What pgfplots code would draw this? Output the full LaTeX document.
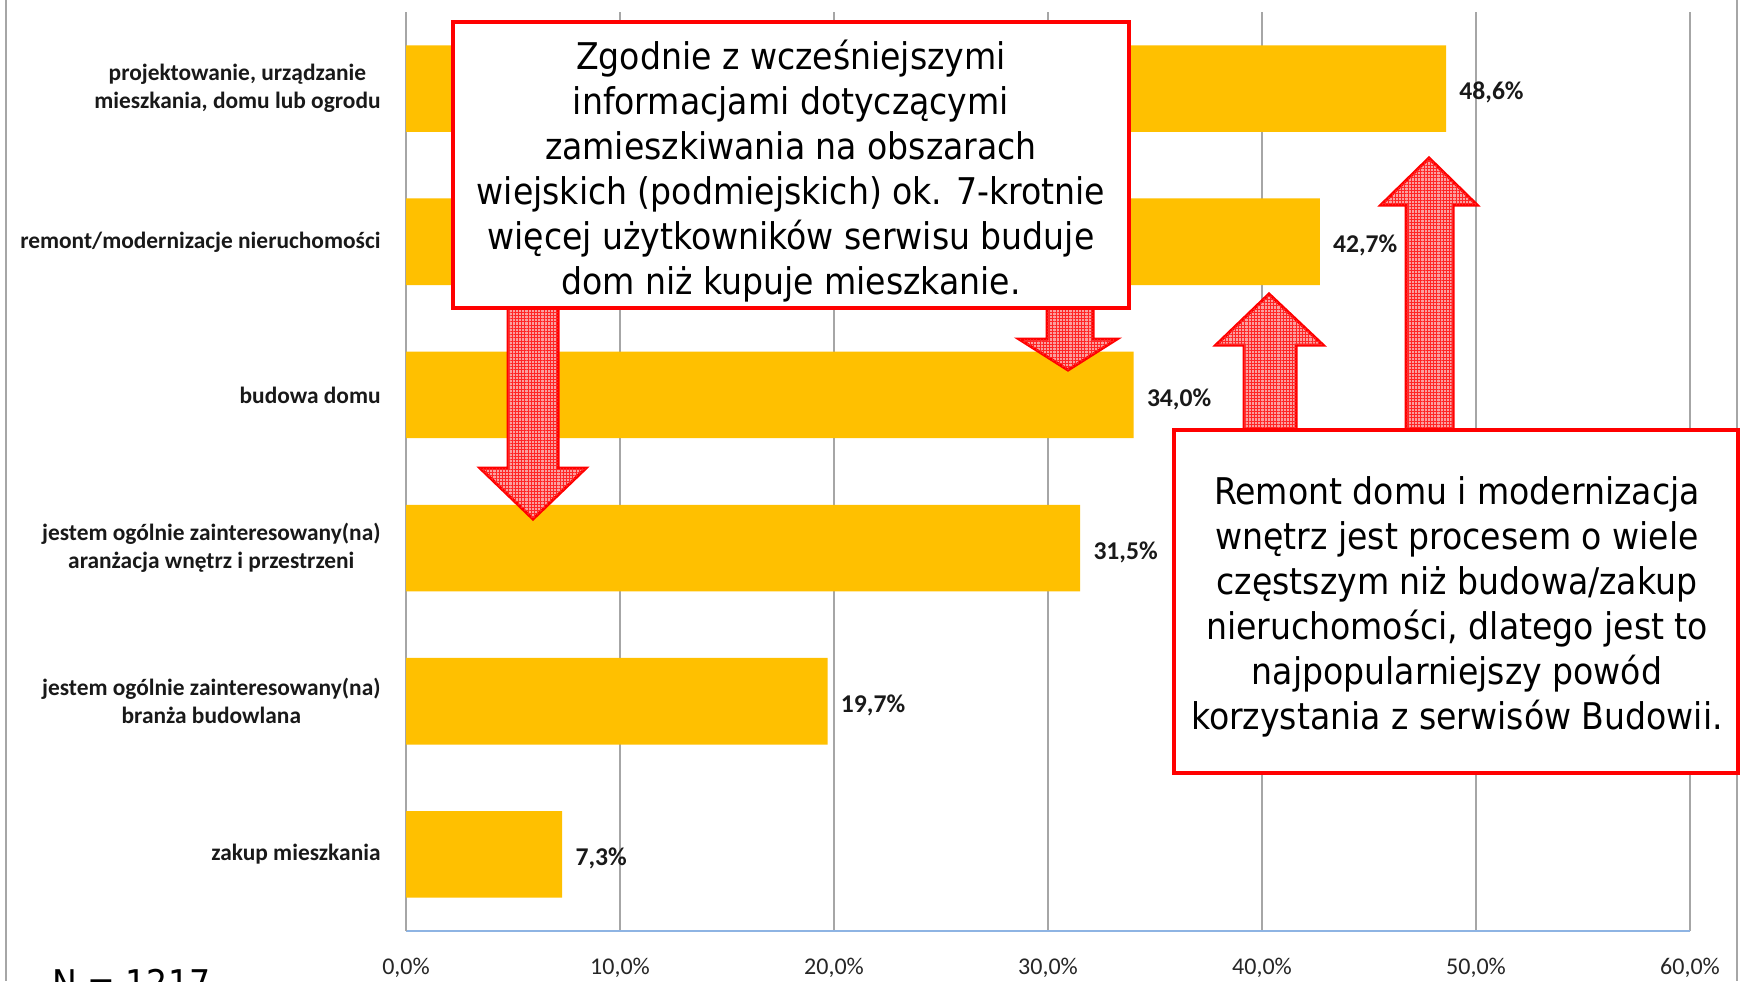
\documentclass[border=0pt]{standalone}
\usepackage{pgfplots}
\pgfplotsset{compat=1.18}
\usetikzlibrary{patterns.meta}
\usepackage{fontspec}
\setmainfont{Carlito}
\newfontfamily\boxfont{DejaVu Sans Condensed}
\definecolor{bargold}{HTML}{FFC000}
\definecolor{gridgray}{HTML}{A6A6A6}
\definecolor{axisblue}{HTML}{8EB4E3}
\definecolor{arrowfill}{RGB}{250,160,160}
\tikzset{bigarrow/.style={draw=red, line width=1.5pt, fill=arrowfill, line join=miter,
  postaction={pattern={Lines[angle=0, distance=1.6pt, line width=0.45pt]}, pattern color=red!85},
  postaction={pattern={Lines[angle=90, distance=1.6pt, line width=0.45pt]}, pattern color=red!85}}}
\begin{document}
\begin{tikzpicture}
\path[use as bounding box, fill=white] (0,0) rectangle (870pt,-490.5pt);
\begin{scope}[x=0.5pt,y=-0.5pt]
\draw[gridgray, line width=0.75pt] (6,0) -- (6,981);
\draw[gridgray, line width=0.75pt] (1737,0) -- (1737,981);
\end{scope}
\begin{axis}[
  at={(203pt,-465.5pt)}, anchor=south west,
  scale only axis, width=642pt, height=459.5pt,
  xbar, bar width=43.3pt,
  xmin=0, xmax=60, ymin=-0.5, ymax=5.5, y dir=reverse,
  xtick={0,10,...,60},
  xticklabels={{0,0\%},{10,0\%},{20,0\%},{30,0\%},{40,0\%},{50,0\%},{60,0\%}},
  xticklabel style={font=\fontsize{12}{14}\selectfont, anchor=base, inner sep=0pt, yshift=-21.5pt, text=black!85},
  ytick={0,...,5},
  yticklabels={{projektowanie, urządzanie\\mieszkania, domu lub ogrodu},{remont/modernizacje nieruchomości},{budowa domu},{jestem ogólnie  zainteresowany(na)\\aranżacja  wnętrz i przestrzeni},{jestem ogólnie  zainteresowany(na)\\branża budowlana},{zakup mieszkania}},
  yticklabel style={font=\bfseries\fontsize{11.7}{14}\selectfont, align=center, anchor=east, inner sep=0pt, xshift=-12.5pt, text=black!90},
  major tick length=0pt,
  xmajorgrids, grid style={gridgray, line width=0.75pt},
  axis x line*=bottom, axis y line*=left,
  x axis line style={axisblue, line width=0.9pt, -},
  y axis line style={gridgray, line width=0.75pt, -},
  point meta=x,
  nodes near coords={\pgfmathprintnumber[fixed,fixed zerofill,precision=1,use comma,assume math mode=true]{\pgfplotspointmeta}\%},
  nodes near coords style={font=\bfseries\fontsize{12.8}{14}\selectfont, anchor=west, inner sep=0pt, xshift=6.5pt, yshift=-2pt, text=black!90},
]
\addplot[fill=bargold, draw=none] coordinates {(48.6,0) (42.7,1) (34.0,2) (31.5,3) (19.7,4) (7.3,5)};
\end{axis}
\begin{scope}[x=0.5pt,y=-0.5pt]
% arrows
\path[bigarrow]
  (508,300) -- (508,468) -- (480,468) -- (533,519) -- (586,468) -- (558,468) -- (558,300) -- cycle;
\path[bigarrow]
  (1047,300) -- (1047,339) -- (1019,339) -- (1068,370) -- (1117,339) -- (1093,339) -- (1093,300) -- cycle;
\path[bigarrow]
  (1244,440) -- (1244,345) -- (1216,345) -- (1269,294) -- (1323,345) -- (1296,345) -- (1296,440) -- cycle;
\path[bigarrow]
  (1406,440) -- (1406,205) -- (1381,205) -- (1429,158) -- (1477,205) -- (1453,205) -- (1453,440) -- cycle;
% boxes
\draw[red, line width=2.3pt, fill=white] (453,22) rectangle (1129,308);
\node[font=\boxfont\fontsize{18.4}{22.5}\selectfont, align=center, inner sep=0pt] at (791,171)
  {Zgodnie z wcześniejszymi\\informacjami dotyczącymi\\zamieszkiwania na obszarach\\wiejskich (podmiejskich) ok. 7-krotnie\\więcej użytkowników serwisu buduje\\dom niż kupuje mieszkanie.};
\draw[red, line width=2.3pt, fill=white] (1174,430) rectangle (1738,773);
\node[font=\boxfont\fontsize{18.4}{22.5}\selectfont, align=center, inner sep=0pt] at (1457,607)
  {Remont domu i modernizacja\\wnętrz jest procesem o wiele\\częstszym niż budowa/zakup\\nieruchomości, dlatego jest to\\najpopularniejszy powód\\korzystania z serwisów Budowii.};
\node[font=\boxfont\fontsize{18.4}{22}\selectfont, anchor=base west, inner sep=0pt] at (52,996) {N = 1217};
\end{scope}
\end{tikzpicture}
\end{document}
